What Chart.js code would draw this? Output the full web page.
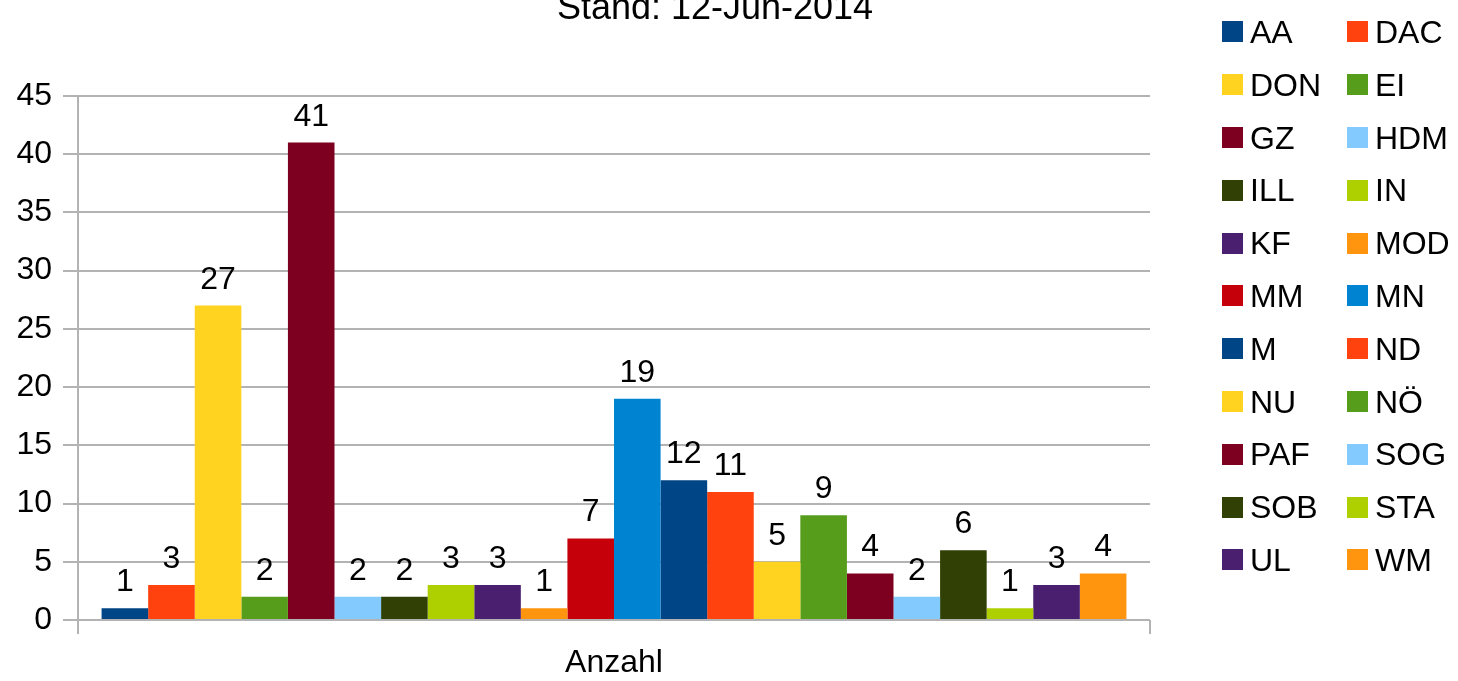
<!DOCTYPE html>
<html>
<head>
<meta charset="utf-8">
<script src="https://cdn.jsdelivr.net/npm/chart.js@4/dist/chart.umd.min.js"></script>
<style>
  body { margin: 0; background: #fff; overflow: hidden; font-family: 'Liberation Sans', Arial, sans-serif; }
  #wrap { position: relative; width: 1458px; height: 681px; }
  #title { position: absolute; left: 0; width: 1430px; top: -11px; text-align: center;
           font-size: 36px; line-height: 36px; color: #000; }
  #legend { position: absolute; left: 1222px; top: 5.6px; width: 260px; }
  .row { display: flex; height: 52.8px; align-items: center; }
  .item { display: flex; align-items: center; width: 125px; flex: none; font-size: 32px; line-height: 32px; color: #000; }
  .box { width: 21px; height: 21px; margin-right: 7px; flex: none; }
</style>
</head>
<body>
<div id="wrap">
  <canvas id="chart" width="1458" height="681"></canvas>
  <div id="title">Stand: 12-Jun-2014</div>
  <div id="legend"></div>
</div>
<script>
const categories = ['Anzahl'];
const seriesNames = ['AA', 'DAC', 'DON', 'EI', 'GZ', 'HDM', 'ILL', 'IN', 'KF', 'MOD', 'MM',
                     'MN', 'M', 'ND', 'NU', 'NÖ', 'PAF', 'SOG', 'SOB', 'STA', 'UL', 'WM'];
const seriesValues = [1, 3, 27, 2, 41, 2, 2, 3, 3, 1, 7, 19, 12, 11, 5, 9, 4, 2, 6, 1, 3, 4];
const seriesColors = ['#004586', '#ff420e', '#ffd320', '#579d1c', '#7e0021', '#83caff',
                      '#314004', '#aecf00', '#4b1f6f', '#ff950e', '#c5000b', '#0084d1',
                      '#004586', '#ff420e', '#ffd320', '#579d1c', '#7e0021', '#83caff',
                      '#314004', '#aecf00', '#4b1f6f', '#ff950e'];

const FONT = "'Liberation Sans', Arial, sans-serif";
const GRID = '#b3b3b3';

// legend, two columns, row by row
const legend = document.getElementById('legend');
for (let i = 0; i < seriesNames.length; i += 2) {
    let html = '<div class="row">';
    for (let j = i; j < i + 2 && j < seriesNames.length; j++) {
        html += `<div class="item"><span class="box" style="background:${seriesColors[j]}"></span>${seriesNames[j]}</div>`;
    }
    legend.innerHTML += html + '</div>';
}

const valueLabels = {
    id: 'valueLabels',
    afterDatasetsDraw(chart) {
        const ctx = chart.ctx;
        ctx.save();
        ctx.font = `32px ${FONT}`;
        ctx.fillStyle = '#000';
        ctx.textAlign = 'center';
        ctx.textBaseline = 'alphabetic';
        chart.data.datasets.forEach((ds, i) => {
            chart.getDatasetMeta(i).data.forEach((bar, k) => {
                ctx.fillText(ds.data[k], bar.x, bar.y - 17);
            });
        });
        ctx.restore();
    }
};

new Chart(document.getElementById('chart'), {
    type: 'bar',
    data: {
        labels: categories,
        datasets: seriesNames.map((name, i) => ({
            label: name,
            data: [seriesValues[i]],
            backgroundColor: seriesColors[i],
            borderWidth: 0,
            categoryPercentage: 0.956,
            barPercentage: 1
        }))
    },
    options: {
        responsive: false,
        animation: false,
        layout: { padding: { top: 96, right: 308, left: 0, bottom: 0 } },
        plugins: {
            legend: { display: false },
            title: { display: false },
            tooltip: { enabled: false }
        },
        scales: {
            x: {
                grid: { display: true, drawOnChartArea: false, drawTicks: true, tickLength: 14,
                        color: GRID, lineWidth: 2 },
                border: { display: false },
                ticks: { color: '#000', font: { family: FONT, size: 32 }, padding: 10 },
                afterFit(scale) { scale.height = 61; }
            },
            y: {
                min: 0,
                max: 45,
                ticks: { stepSize: 5, color: '#000', font: { family: FONT, size: 32, lineHeight: 1 }, padding: 11 },
                grid: { color: GRID, lineWidth: 2, tickLength: 15 },
                border: { display: true, color: GRID, width: 2 },
                afterFit(scale) { scale.width = 78; }
            }
        }
    },
    plugins: [valueLabels]
});
</script>
</body>
</html>
